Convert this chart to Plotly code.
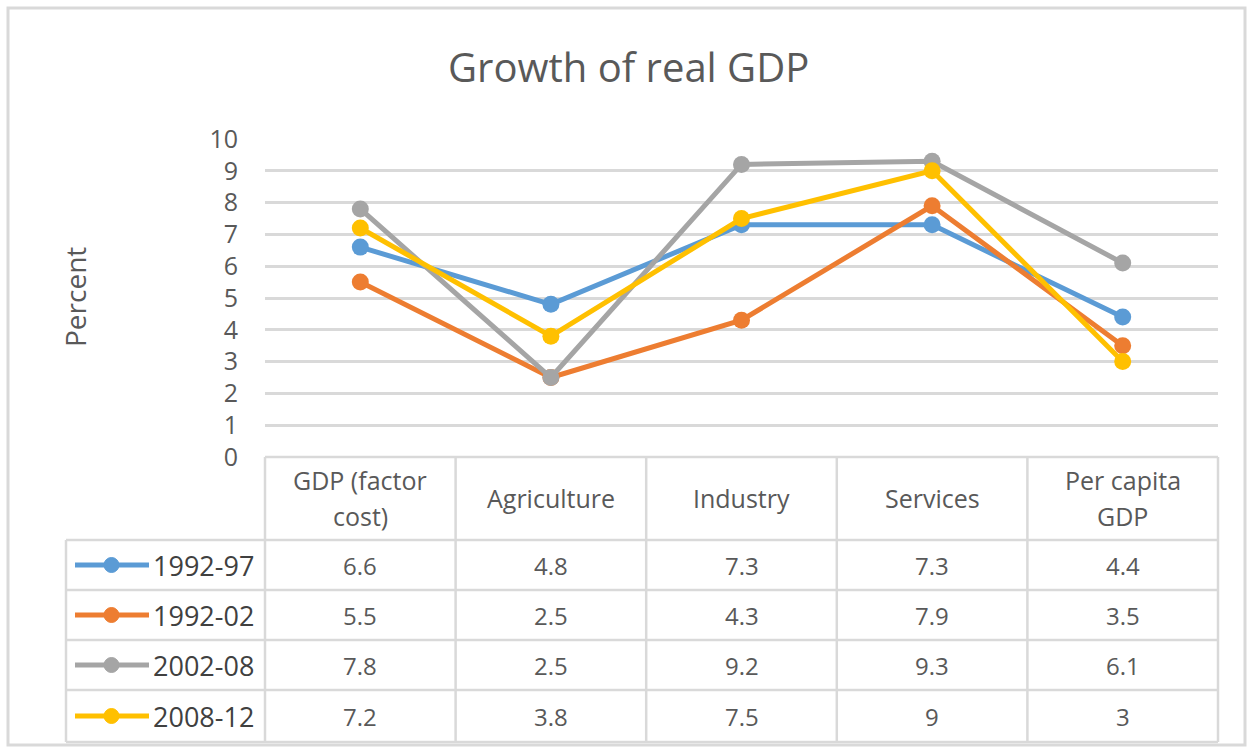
import plotly.graph_objects as go

categories = ["GDP (factor<br>cost)", "Agriculture", "Industry", "Services", "Per capita<br>GDP"]
series_names = ["1992-97", "1992-02", "2002-08", "2008-12"]
s_1992_97 = [6.6, 4.8, 7.3, 7.3, 4.4]
s_1992_02 = [5.5, 2.5, 4.3, 7.9, 3.5]
s_2002_08 = [7.8, 2.5, 9.2, 9.3, 6.1]
s_2008_12 = [7.2, 3.8, 7.5, 9.0, 3.0]
series_values = [s_1992_97, s_1992_02, s_2002_08, s_2008_12]
colors = ["#5B9BD5", "#ED7D31", "#A5A5A5", "#FFC000"]
y_ticks = list(range(0, 11))

W, H = 1253, 755
FONT = "Open Sans"
TXT = "#595959"
GRID = "#D9D9D9"

def px(x):
    return x / W

def py(y):
    return 1 - y / H

plot_l, plot_r = 265, 1218
plot_t, plot_b = 139, 457
x_idx = list(range(len(categories)))

fig = go.Figure()
for name, vals, c in zip(series_names, series_values, colors):
    fig.add_trace(go.Scatter(
        x=x_idx, y=vals, mode="lines+markers", name=name,
        line=dict(color=c, width=5), marker=dict(color=c, size=17),
        showlegend=False, cliponaxis=False))

shapes = []
annotations = []

# outer border
shapes.append(dict(type="rect", xref="paper", yref="paper", x0=px(8), x1=px(1245), y0=py(745), y1=py(8),
                   line=dict(color=GRID, width=3)))

# table geometry
header_t, header_b = 457, 540
row_lines = [540, 590, 640, 690, 742]
col_w = (plot_r - plot_l) / len(categories)
col_edges = [plot_l + i * col_w for i in range(len(categories) + 1)]
leg_l = 66

def hline(x0, x1, y):
    shapes.append(dict(type="line", xref="paper", yref="paper", x0=px(x0), x1=px(x1), y0=py(y), y1=py(y),
                       line=dict(color=GRID, width=2.5)))

def vline(x, y0, y1):
    shapes.append(dict(type="line", xref="paper", yref="paper", x0=px(x), x1=px(x), y0=py(y0), y1=py(y1),
                       line=dict(color=GRID, width=2.5)))

hline(plot_l, plot_r, header_t)
for y in row_lines:
    hline(leg_l, plot_r, y)
for x in col_edges:
    vline(x, header_t, row_lines[-1])
vline(leg_l, row_lines[0], row_lines[-1])

# header texts (each line placed separately for Excel-like line spacing)
hc = (header_t + header_b) / 2 - 1
line_gap = 36
for i, cat in enumerate(categories):
    lines = cat.split("<br>")
    n = len(lines)
    for k, ln in enumerate(lines):
        yy = hc + (k - (n - 1) / 2) * line_gap
        annotations.append(dict(x=i, xref="x", y=py(yy), yref="paper", text=ln,
                                showarrow=False, font=dict(family=FONT, size=25, color=TXT),
                                xanchor="center", yanchor="middle"))

# data rows
for r, (name, vals, c) in enumerate(zip(series_names, series_values, colors)):
    yc = (row_lines[r] + row_lines[r + 1]) / 2
    for i, v in enumerate(vals):
        annotations.append(dict(x=i, xref="x", y=py(yc), yref="paper", text=f"{v:g}",
                                showarrow=False, font=dict(family=FONT, size=24, color=TXT),
                                xanchor="center", yanchor="middle"))
    # legend key
    shapes.append(dict(type="line", xref="paper", yref="paper", x0=px(75), x1=px(149), y0=py(yc), y1=py(yc),
                       line=dict(color=c, width=5)))
    shapes.append(dict(type="circle", xref="paper", yref="paper", x0=px(104), x1=px(119), y0=py(yc + 7.5),
                       y1=py(yc - 7.5), fillcolor=c, line=dict(color=c, width=1)))
    annotations.append(dict(x=px(151), xref="paper", y=py(yc), yref="paper", text=name, showarrow=False,
                            font=dict(family=FONT, size=27, color="#404040"), xanchor="left", yanchor="middle"))

# title and axis title
annotations.append(dict(x=px(628), y=py(67), xref="paper", yref="paper", text="Growth of real GDP",
                        showarrow=False, font=dict(family=FONT, size=40, color=TXT), xanchor="center",
                        yanchor="middle"))
annotations.append(dict(x=px(75), y=py(297), xref="paper", yref="paper", text="Percent", textangle=-90,
                        showarrow=False, font=dict(family=FONT, size=28, color=TXT), xanchor="center",
                        yanchor="middle"))

fig.update_layout(
    template="none",
    width=W, height=H, margin=dict(l=0, r=0, t=0, b=0, pad=0), autosize=False,
    paper_bgcolor="white", plot_bgcolor="white",
    xaxis=dict(domain=[px(plot_l), px(plot_r)], range=[-0.5, len(categories) - 0.5], showgrid=False,
               showticklabels=False, zeroline=False, showline=False, fixedrange=True, automargin=False),
    yaxis=dict(domain=[py(plot_b), py(plot_t)], range=[0, 10], tickvals=y_ticks, automargin=False,
               showgrid=True, gridcolor=GRID, gridwidth=2.5, zeroline=False, showline=False,
               tickfont=dict(family=FONT, size=25, color=TXT), ticks="", ticklabelstandoff=26,
               fixedrange=True),
    shapes=shapes, annotations=annotations,
)

fig.write_html("out.html", config={"displayModeBar": False},
               post_script="document.body.style.margin='0';document.body.style.overflow='hidden';")
